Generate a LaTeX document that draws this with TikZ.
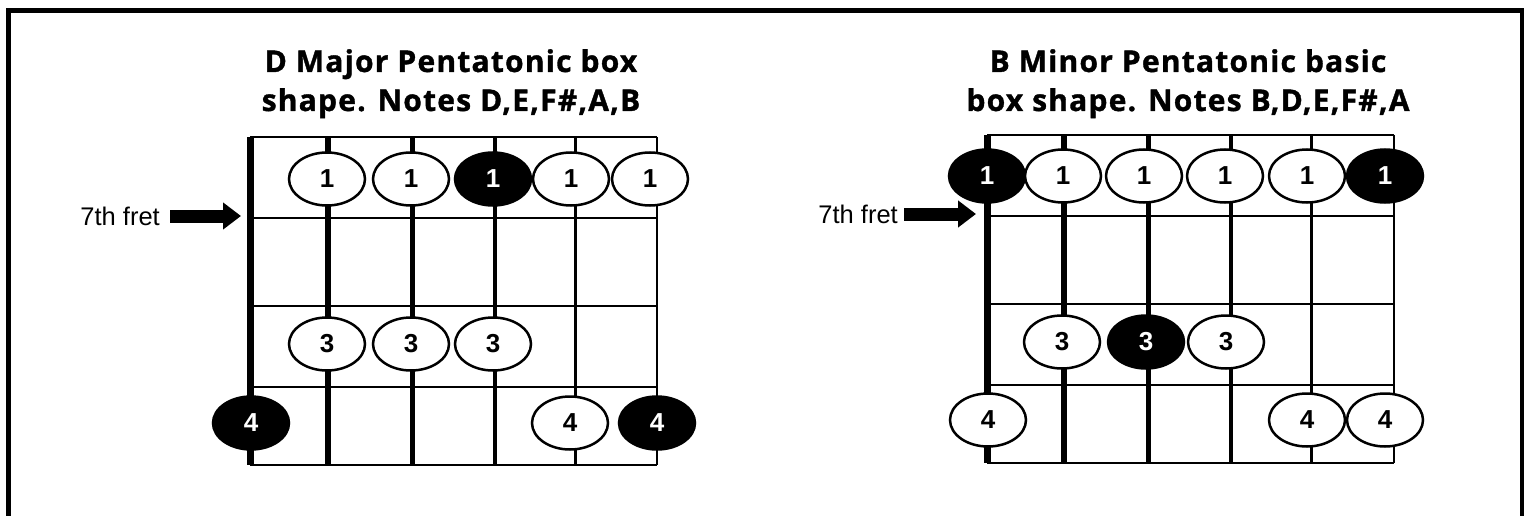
\documentclass[tikz,border=0pt]{standalone}
\usepackage{fontspec}
\setmainfont{Liberation Sans}
\newfontfamily\titlefont{Open Sans}[BoldFeatures={FakeBold=1.2},LetterSpace=4]
\usetikzlibrary{shapes.geometric,arrows.meta}

\tikzset{
  note/.style={ellipse,draw,line width=2.5pt,fill=white,minimum width=76pt,minimum height=53pt,inner sep=0pt,font=\bfseries\fontsize{26}{26}\selectfont},
  root/.style={note,fill=black,text=white},
  title/.style={align=center,inner sep=0pt,font=\titlefont\bfseries\fontsize{30}{39}\selectfont},
  fretlabel/.style={inner sep=0pt,font=\fontsize{25.5}{25.5}\selectfont},
  bigarrow/.style={line width=13pt,-{Triangle[width=26pt,length=18pt]}}
}

\begin{document}
\begin{tikzpicture}[x=1pt,y=-1pt]
\useasboundingbox (0,0) rectangle (1531,516);
\draw[line width=4.5pt] (8.5,516) -- (8.5,10.5) -- (1522,10.5) -- (1522,516);

\node[title,anchor=north] (titleL) at (451,49) {D Major Pentatonic box\\shape. Notes D,E,F\#,A,B};
\foreach \y in {137,218,306,387,465} \draw[line width=2.5pt] (250,\y) -- (657,\y);
\foreach \x/\w in {250/7,328/6,412/5,495/4,575/3,657/2.5} \draw[line width=\w pt] (\x,137) -- (\x,465);
\node[fretlabel,anchor=east] (fretL) at (160,216) {7th fret};
\coordinate (tipL) at (241,216);
\draw[bigarrow] ([xshift=10pt]fretL.east) -- (tipL);
\path
(327,179) node[note](l1){1}
(411,179) node[note](l2){1}
(493,179) node[root](l3){1}
(571,179) node[note](l4){1}
(650,179) node[note](l5){1}
(327,344) node[note](l6){3}
(411,344) node[note](l7){3}
(493,344) node[note](l8){3}
(251,423) node[root](l9){4}
(570,423) node[note](l10){4}
(657,423) node[root](l11){4};

\node[title,anchor=north] (titleR) at (1188,49) {B Minor Pentatonic basic\\box shape. Notes B,D,E,F\#,A};
\foreach \y in {135,216,304,385,463} \draw[line width=2.5pt] (987,\y) -- (1394,\y);
\foreach \x/\w in {987/7,1064/6,1148/5,1231/4,1311/3,1394/2.5} \draw[line width=\w pt] (\x,135) -- (\x,463);
\node[fretlabel,anchor=east] (fretR) at (898,214) {7th fret};
\coordinate (tipR) at (976,214);
\draw[bigarrow] ([xshift=6pt]fretR.east) -- (tipR);
\path
(987,176) node[root](r1){1}
(1063,176) node[note](r2){1}
(1144,176) node[note](r3){1}
(1225,176) node[note](r4){1}
(1307,176) node[note](r5){1}
(1385,176) node[root](r6){1}
(1062,342) node[note](r7){3}
(1146,342) node[root](r8){3}
(1226,342) node[note](r9){3}
(988,420) node[note](r10){4}
(1307,420) node[note](r11){4}
(1385,420) node[note](r12){4};
\end{tikzpicture}
\end{document}
